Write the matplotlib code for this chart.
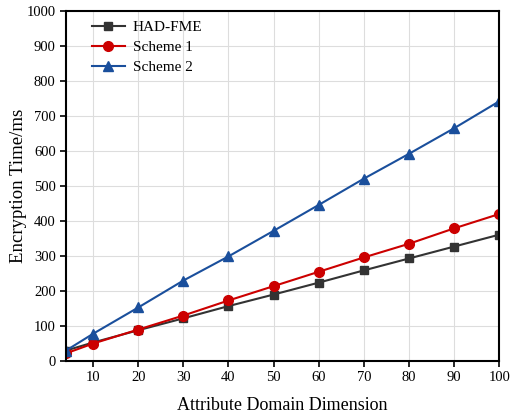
import matplotlib
matplotlib.use("Agg")
import matplotlib.pyplot as plt

# Encryption time vs. attribute domain dimension
dims = [4, 10, 20, 30, 40, 50, 60, 70, 80, 90, 100]
had_fme = [30, 53, 88, 122, 157, 190, 224, 259, 293, 327, 361]
scheme1 = [22, 50, 90, 130, 173, 214, 255, 296, 335, 379, 420]
scheme2 = [30, 78, 153, 230, 299, 372, 446, 521, 592, 665, 742]

plt.rcParams['font.family'] = ['Liberation Serif', 'DejaVu Serif']

fig = plt.figure(figsize=(5.12, 4.15), dpi=100)
ax = fig.add_axes([0.129, 0.130, 0.846, 0.8435])

ax.plot(dims, had_fme, color='#333333', marker='s', markersize=6, linewidth=1.5, label='HAD-FME')
ax.plot(dims, scheme1, color='#cc0000', marker='o', markersize=7, linewidth=1.5, label='Scheme 1')
ax.plot(dims, scheme2, color='#1a4f9c', marker='^', markersize=7, linewidth=1.5, label='Scheme 2')

ax.set_xlim(4, 100)
ax.set_ylim(0, 1000)
ax.set_xticks(range(10, 101, 10))
ax.set_yticks(range(0, 1001, 100))
ax.grid(True, color='#dddddd', linewidth=0.8)
ax.set_axisbelow(True)

for s in ax.spines.values():
    s.set_linewidth(1.5)
ax.tick_params(direction='out', length=4, width=1.2, labelsize=10.5)

ax.set_xlabel('Attribute Domain Dimension', fontsize=13, labelpad=9)
ax.set_ylabel('Encryption Time/ms', fontsize=13.5, labelpad=0)

ax.legend(loc='upper left', frameon=False, fontsize=11, handlelength=2.2,
          handletextpad=0.5, labelspacing=0.4, borderaxespad=0.0,
          bbox_to_anchor=(0.045, 0.99))

fig.savefig('out.png', dpi=100)
